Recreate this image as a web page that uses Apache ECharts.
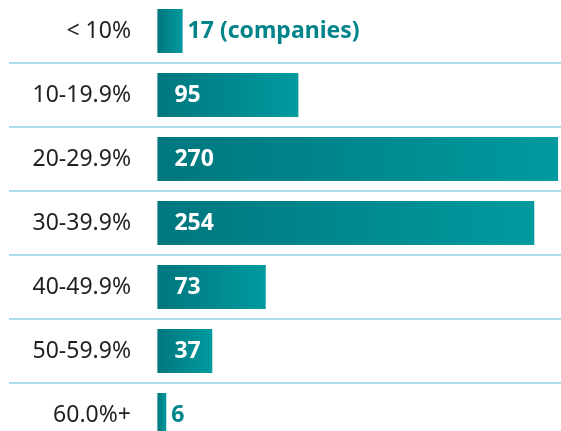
<!DOCTYPE html>
<html>
<head>
<meta charset="utf-8">
<script src="https://cdn.jsdelivr.net/npm/echarts@6/dist/echarts.min.js"></script>
<style>
  html, body { margin: 0; padding: 0; background: #fff; }
  #chart { width: 561px; height: 431px; }
</style>
</head>
<body>
<div id="chart"></div>
<script>
// margin bands and number of companies in each
const bands = ['< 10%', '10-19.9%', '20-29.9%', '30-39.9%', '40-49.9%', '50-59.9%', '60.0%+']
const companies = [17, 95, 270, 254, 73, 37, 6]
// bars too short to hold their number get it outside, in teal
const outsideText = { 0: '17 (companies)', 6: '6' }

const teal = '#00848a'
const chart = echarts.init(document.getElementById('chart'))

const barData = companies.map((v, i) => {
  const item = { value: v }
  if (outsideText[i] !== undefined) {
    item.label = {
      position: 'right',
      distance: 5,
      color: teal,
      formatter: outsideText[i]
    }
  }
  return item
})

chart.setOption({
  animation: false,
  grid: {
    left: 9,
    right: 0,
    top: -1,
    height: 448,
    outerBoundsMode: 'none' // last row runs off the bottom edge, like the original
  },
  xAxis: {
    type: 'value',
    min: -100,
    max: 272,
    show: false
  },
  yAxis: {
    type: 'category',
    data: bands,
    inverse: true,
    offset: -149, // pull the labels in so they sit just left of the bars
    axisLine: { show: false },
    axisTick: { show: false },
    axisLabel: {
      margin: 27,
      fontSize: 23,
      fontFamily: 'Noto Sans',
      color: '#231f20'
    },
    splitLine: {
      show: true,
      lineStyle: { color: '#abdcf1', width: 2 }
    }
  },
  series: [
    {
      type: 'bar',
      data: barData,
      barWidth: 44,
      itemStyle: {
        color: new echarts.graphic.LinearGradient(0, 0, 1, 0, [
          { offset: 0, color: '#00777e' },
          { offset: 1, color: '#009a9f' }
        ])
      },
      label: {
        show: true,
        position: 'insideLeft',
        distance: 17,
        color: '#fff',
        fontSize: 23,
        fontWeight: 'bold',
        fontFamily: 'Noto Sans'
      }
    }
  ]
})
</script>
</body>
</html>
